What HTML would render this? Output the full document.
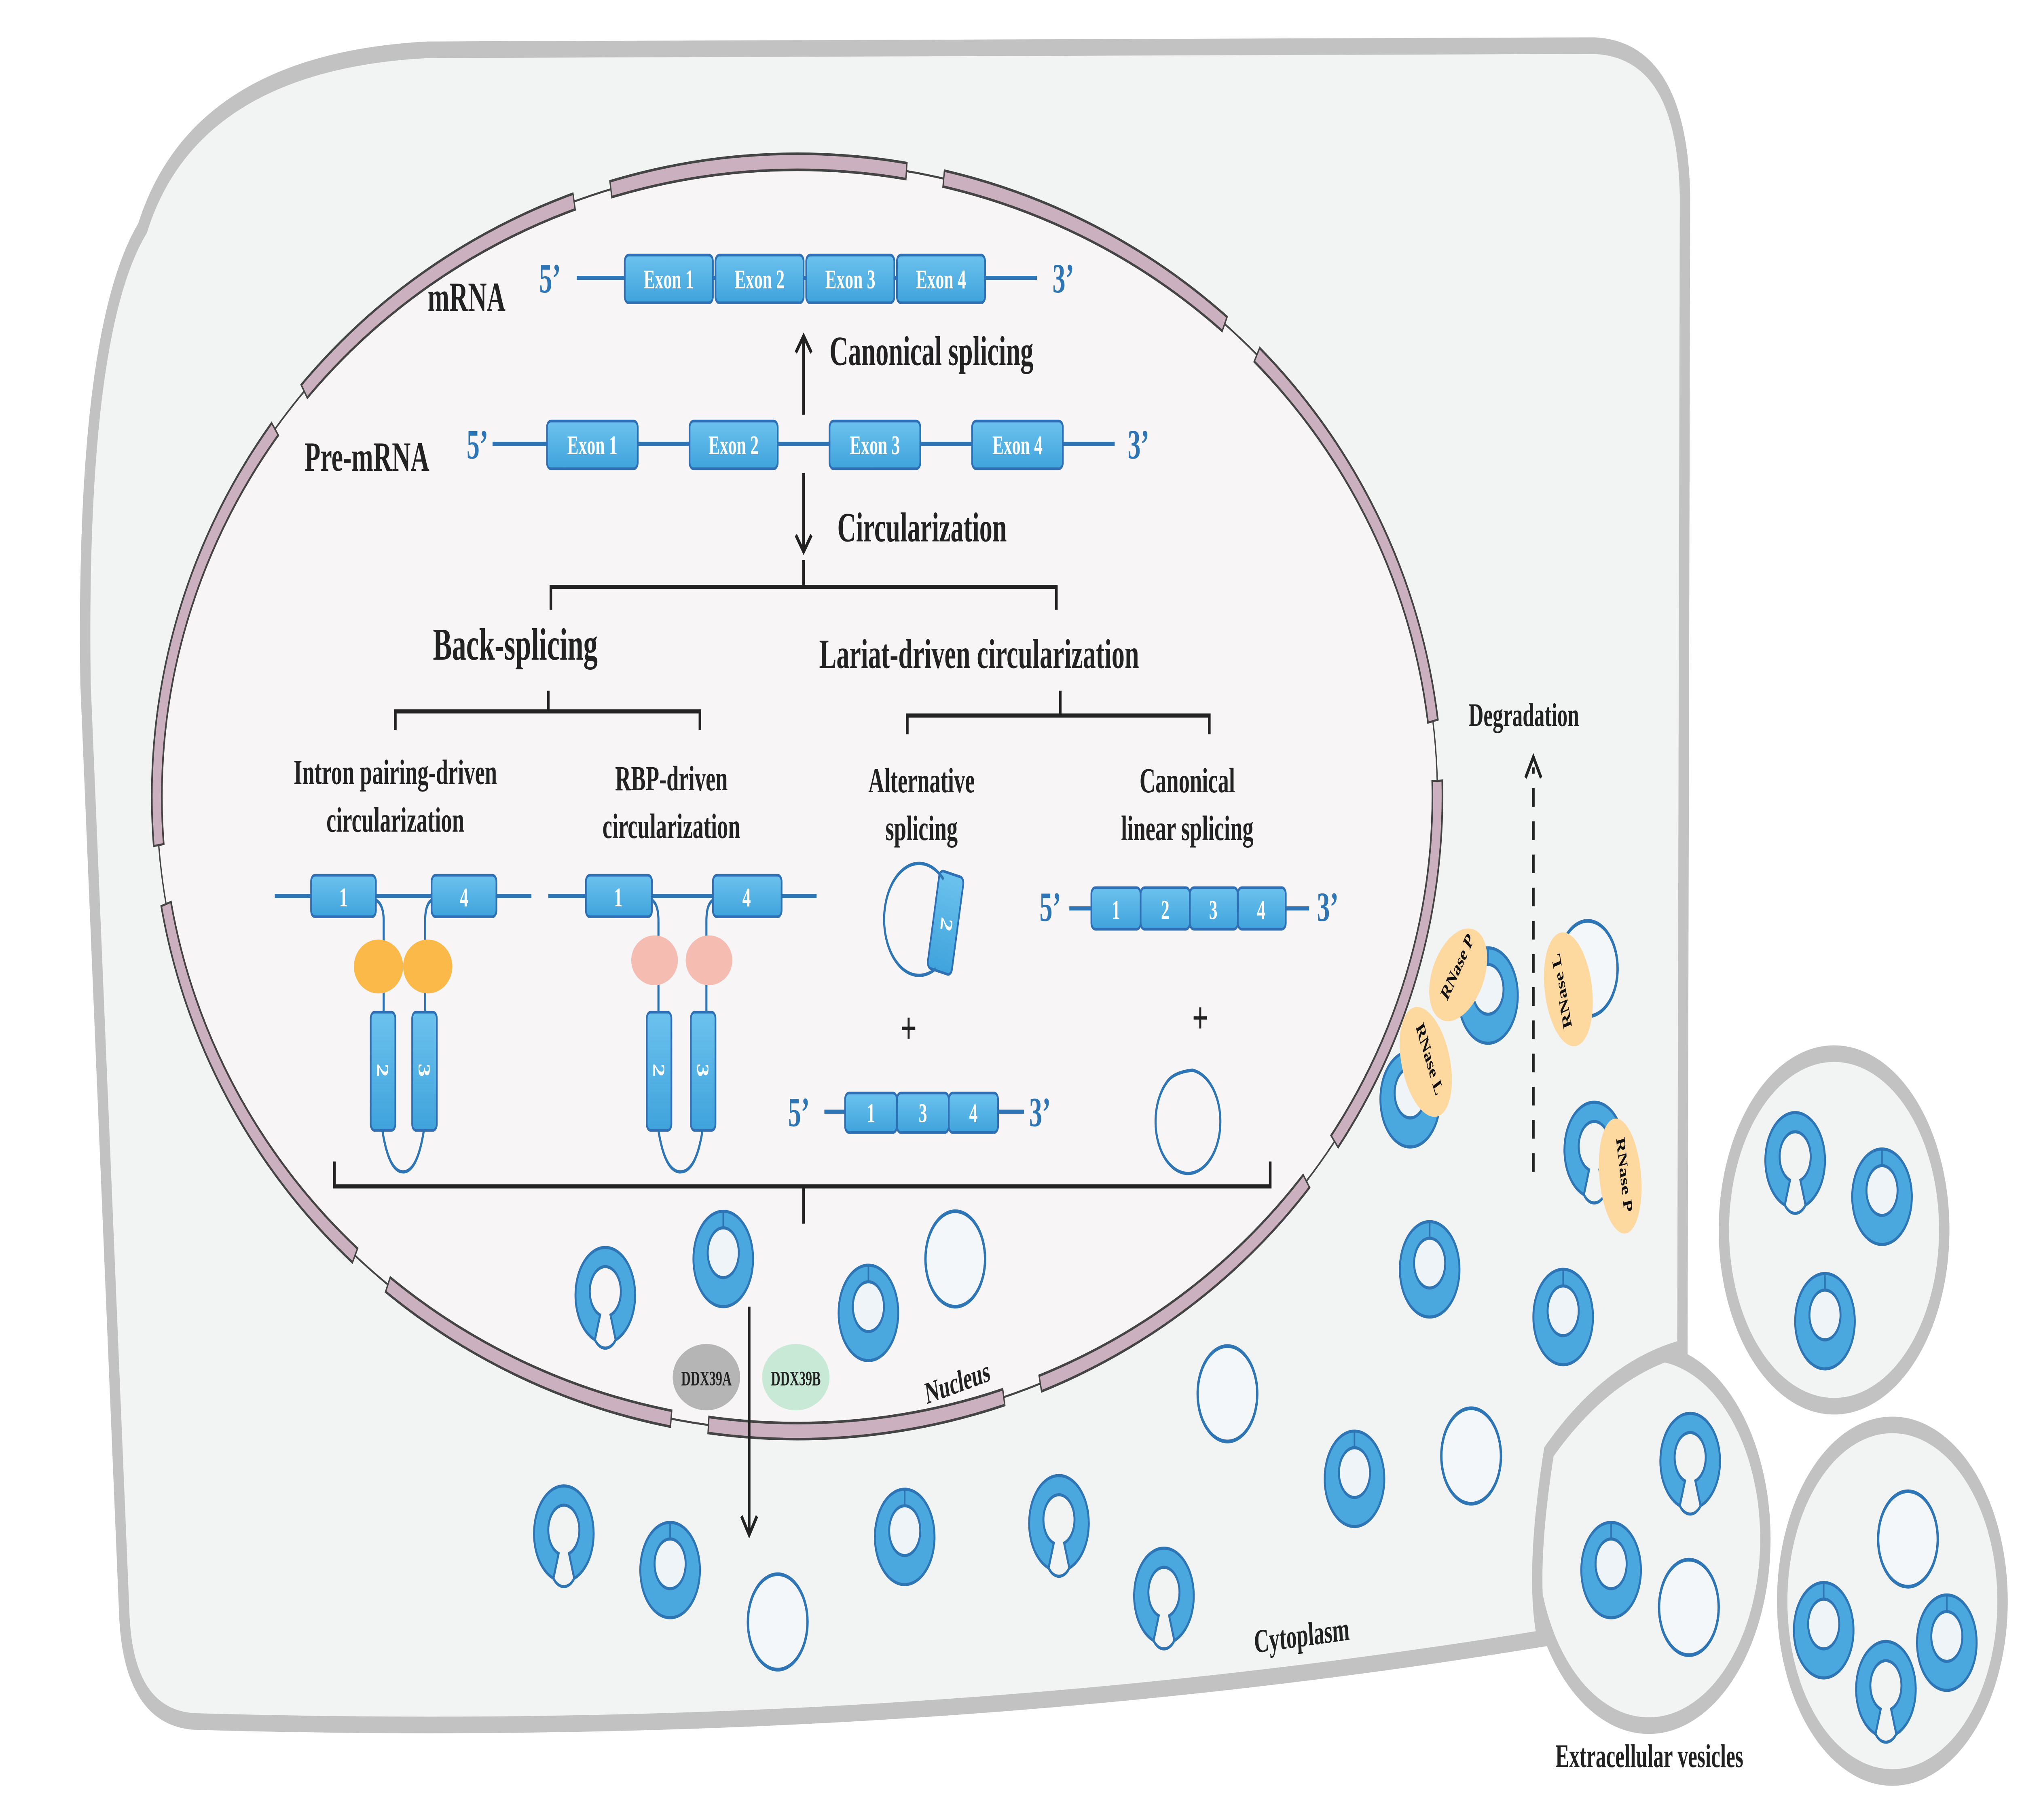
<!DOCTYPE html>
<html><head><meta charset="utf-8"><style>html,body{margin:0;padding:0;background:#fff;overflow:hidden;width:100%;height:100%}svg{display:block;width:100vw;height:100vh}text{font-family:"Liberation Serif",serif;font-weight:bold}</style></head>
<body>
<svg viewBox="0 0 1560 877.5" preserveAspectRatio="none" xmlns="http://www.w3.org/2000/svg">
<defs>
<linearGradient id="bx" x1="0" y1="0" x2="0" y2="1"><stop offset="0" stop-color="#6cc2ee"/><stop offset="1" stop-color="#3fa3dc"/></linearGradient>
<g id="ring"><circle r="23" fill="#4aa8de" stroke="#2e75b6" stroke-width="1.5"/><circle cy="-3" r="12" fill="#eef4f8" stroke="#2e75b6" stroke-width="1.5"/><line x1="0" y1="-23" x2="0" y2="-15" stroke="#2e75b6" stroke-width="1.2"/></g>
<g id="part"><path d="M-8,21 A23,23 0 1 1 8,21 L4,9 A12,12 0 1 0 -4,9 Z" fill="#4aa8de" stroke="#2e75b6" stroke-width="1.5"/><path d="M-8,21 A10,10 0 0 0 8,21" fill="none" stroke="#2e75b6" stroke-width="1.5"/></g>
<g id="open"><circle r="23" fill="#f4f7fa" stroke="#2e75b6" stroke-width="1.8"/></g>
</defs>
<rect width="1560" height="877.5" fill="#fff"/>
<circle cx="1415" cy="593" r="85" fill="#f2f3f3" stroke="#c2c2c2" stroke-width="8"/>
<circle cx="1460" cy="772" r="85" fill="#f2f3f3" stroke="#c2c2c2" stroke-width="8"/>
<circle cx="1272" cy="742" r="90" fill="#f2f3f3" stroke="#c2c2c2" stroke-width="8"/>
<path d="M110,110 Q150,30 330,24 L1230,22 Q1298,24 1300,95 L1298,650 Q1240,660 1195,700 Q1180,760 1190,790 Q700,840 150,830 Q100,828 96,780 L66,330 Q62,160 110,110 Z" fill="#f2f3f3" stroke="#c2c2c2" stroke-width="8"/>
<ellipse cx="615" cy="384" rx="494" ry="306" fill="#f7f5f6" stroke="#444" stroke-width="1"/>
<ellipse cx="615" cy="384" rx="494" ry="306" fill="none" stroke="#444" stroke-width="9" stroke-dasharray="230 28" stroke-dashoffset="40"/>
<ellipse cx="615" cy="384" rx="494" ry="306" fill="none" stroke="#cbb0bf" stroke-width="6.5" stroke-dasharray="228 30" stroke-dashoffset="39"/>
<g fill="#222">
<text x="330" y="150" font-size="20">mRNA</text>
<text x="235" y="227" font-size="20">Pre-mRNA</text>
<text x="640" y="176" font-size="20">Canonical splicing</text>
<text x="646" y="261" font-size="20">Circularization</text>
<text x="334" y="318" font-size="22">Back-splicing</text>
<text x="632" y="322" font-size="20">Lariat-driven circularization</text>
<g font-size="17" text-anchor="middle">
<text x="305" y="378">Intron pairing-driven</text><text x="305" y="401">circularization</text>
<text x="518" y="381">RBP-driven</text><text x="518" y="404">circularization</text>
<text x="711" y="382">Alternative</text><text x="711" y="405">splicing</text>
<text x="916" y="382">Canonical</text><text x="916" y="405">linear splicing</text>
</g>
<text x="1133" y="350" font-size="16">Degradation</text>
<text x="1200" y="852" font-size="16">Extracellular vesicles</text>
<text x="968" y="797" font-size="16" transform="rotate(-5 968 797)">Cytoplasm</text>
<text x="715" y="677" font-size="15" transform="rotate(-13 715 677)">Nucleus</text>
</g>
<g fill="#2e75b6" font-size="20">
<text x="416" y="141">5’</text><text x="812" y="141">3’</text>
<text x="360" y="221">5’</text><text x="870" y="221">3’</text>
<text x="608" y="543">5’</text><text x="794" y="543">3’</text>
<text x="802" y="444">5’</text><text x="1016" y="444">3’</text>
</g>
<g stroke="#2e75b6" stroke-width="2">
<line x1="445" y1="134" x2="800" y2="134"/>
<line x1="380" y1="214" x2="860" y2="214"/>
<line x1="212" y1="432" x2="410" y2="432"/><line x1="423" y1="432" x2="630" y2="432"/>
<line x1="636" y1="536" x2="790" y2="536"/>
<line x1="825" y1="438" x2="1010" y2="438"/>
</g>
<g fill="url(#bx)" stroke="#2e6fb5" stroke-width="1.3">
<rect x="482" y="123" width="68" height="23" rx="3"/><rect x="552" y="123" width="68" height="23" rx="3"/><rect x="622" y="123" width="68" height="23" rx="3"/><rect x="692" y="123" width="68" height="23" rx="3"/>
<rect x="422" y="203" width="70" height="23" rx="3"/><rect x="532" y="203" width="68" height="23" rx="3"/><rect x="640" y="203" width="70" height="23" rx="3"/><rect x="750" y="203" width="70" height="23" rx="3"/>
<rect x="240" y="422" width="50" height="20" rx="3"/><rect x="333" y="422" width="50" height="20" rx="3"/>
<rect x="452" y="422" width="51" height="20" rx="3"/><rect x="550" y="422" width="53" height="20" rx="3"/>
<rect x="286" y="488" width="19" height="57" rx="3"/><rect x="318" y="488" width="19" height="57" rx="3"/>
<rect x="499" y="488" width="19" height="57" rx="3"/><rect x="533" y="488" width="19" height="57" rx="3"/>
<rect x="652" y="527" width="40" height="19" rx="3"/><rect x="692" y="527" width="40" height="19" rx="3"/><rect x="732" y="527" width="38" height="19" rx="3"/>
<rect x="842" y="428" width="38" height="20" rx="3"/><rect x="880" y="428" width="38" height="20" rx="3"/><rect x="918" y="428" width="37" height="20" rx="3"/><rect x="955" y="428" width="37" height="20" rx="3"/>
<rect x="720" y="421" width="19" height="48" rx="3" transform="rotate(12 730 445)"/>
</g>
<g fill="#fff" font-size="13" text-anchor="middle">
<text x="516" y="139">Exon 1</text><text x="586" y="139">Exon 2</text><text x="656" y="139">Exon 3</text><text x="726" y="139">Exon 4</text>
<text x="457" y="219">Exon 1</text><text x="566" y="219">Exon 2</text><text x="675" y="219">Exon 3</text><text x="785" y="219">Exon 4</text>
<text x="265" y="437">1</text><text x="358" y="437">4</text><text x="477" y="437">1</text><text x="576" y="437">4</text>
<text x="672" y="541">1</text><text x="712" y="541">3</text><text x="751" y="541">4</text>
<text x="861" y="443">1</text><text x="899" y="443">2</text><text x="936" y="443">3</text><text x="973" y="443">4</text>
<text transform="translate(291,516) rotate(90)">2</text><text transform="translate(323,516) rotate(90)">3</text>
<text transform="translate(504,516) rotate(90)">2</text><text transform="translate(538,516) rotate(90)">3</text>
<text transform="translate(726,445) rotate(100)">2</text>
</g>
<g fill="none" stroke="#2e75b6" stroke-width="1.6">
<path d="M290,434 Q296,436 296,444 V488"/><path d="M333,434 Q328,436 328,444 V488"/>
<path d="M295,545 Q300,565 311,565 Q322,565 327,545"/>
<path d="M503,434 Q508,436 508,444 V488"/><path d="M550,434 Q545,436 545,444 V488"/>
<path d="M508,545 Q513,565 525,565 Q537,565 542,545"/>
<path d="M722,467 A27,27 0 1 1 728,424"/>
<path d="M900,522 A25,25 0 1 0 920,516 Q905,517 900,522"/>
</g>
<ellipse cx="292" cy="466" rx="19" ry="13" fill="#fbb94a"/><ellipse cx="330" cy="466" rx="19" ry="13" fill="#fbb94a"/>
<ellipse cx="505" cy="463" rx="18" ry="12" fill="#f5bcb2"/><ellipse cx="547" cy="463" rx="18" ry="12" fill="#f5bcb2"/>
<g fill="#222" font-size="22" text-anchor="middle"><text x="701" y="503">+</text><text x="926" y="498">+</text></g>
<g fill="none" stroke="#222" stroke-width="2">
<path d="M425,294 V283 H815 V294 M620,283 V270"/>
<path d="M305,352 V343 H540 V352 M423,343 V333"/>
<path d="M700,354 V345 H933 V354 M818,345 V333"/>
<path d="M258,560 V572 H980 V560 M620,572 V590"/>
<path d="M620,200 V162 M614,170 L620,162 L626,170"/>
<path d="M620,228 V266 M614,258 L620,266 L626,258"/>
<path d="M578,630 V740 M572,731 L578,740 L584,731"/>
<path d="M1183,565 V370" stroke-dasharray="9 7"/><path d="M1177,375 L1183,365 L1189,375"/>
</g>
<ellipse cx="545" cy="664" rx="26" ry="16" fill="#b5b5b5"/><ellipse cx="614" cy="664" rx="26" ry="16" fill="#c7e9d5"/>
<g font-size="10" fill="#222" text-anchor="middle"><text x="545" y="668">DDX39A</text><text x="614" y="668">DDX39B</text></g>
<use href="#part" x="467" y="625"/><use href="#ring" x="558" y="607"/><use href="#ring" x="670" y="633"/><use href="#open" x="737" y="607"/>
<use href="#part" x="435" y="740"/><use href="#ring" x="517" y="757"/><use href="#open" x="600" y="782"/><use href="#ring" x="698" y="741"/>
<use href="#part" x="817" y="735"/><use href="#part" x="898" y="770"/><use href="#open" x="947" y="672"/><use href="#ring" x="1045" y="713"/>
<use href="#open" x="1135" y="702"/><use href="#ring" x="1103" y="612"/><use href="#ring" x="1206" y="635"/>
<use href="#ring" x="1088" y="530"/><use href="#ring" x="1148" y="480"/><use href="#open" x="1225" y="467"/><use href="#part" x="1230" y="555"/>
<use href="#part" x="1304" y="705"/><use href="#ring" x="1243" y="757"/><use href="#open" x="1303" y="775"/>
<use href="#part" x="1385" y="560"/><use href="#ring" x="1452" y="577"/><use href="#ring" x="1408" y="637"/>
<use href="#open" x="1472" y="742"/><use href="#ring" x="1407" y="786"/><use href="#ring" x="1502" y="792"/><use href="#part" x="1455" y="815"/>
<g fill="#fdd9a0">
<ellipse cx="1125" cy="470" rx="18" ry="26" transform="rotate(45 1125 470)"/>
<ellipse cx="1100" cy="512" rx="18" ry="28" transform="rotate(-25 1100 512)"/>
<ellipse cx="1210" cy="477" rx="18" ry="28" transform="rotate(-15 1210 477)"/>
<ellipse cx="1250" cy="567" rx="16" ry="28" transform="rotate(-10 1250 567)"/>
</g>
<g font-size="10" fill="#111" text-anchor="middle">
<text transform="translate(1127,468) rotate(-55)">RNase P</text>
<text transform="translate(1100,512) rotate(65)">RNase L</text>
<text transform="translate(1208,477) rotate(-105)">RNase L</text>
<text transform="translate(1250,567) rotate(80)">RNase P</text>
</g>
</svg>
</body></html>
